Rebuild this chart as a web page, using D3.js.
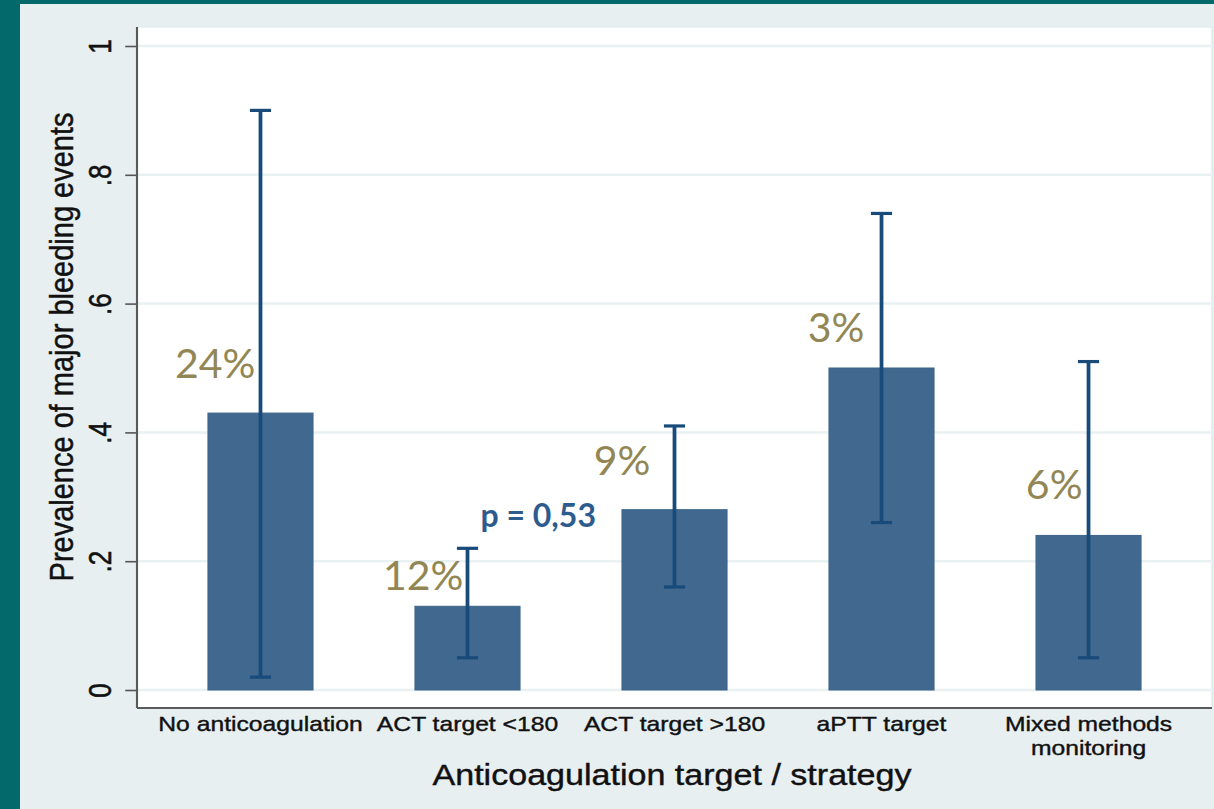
<!DOCTYPE html>
<html>
<head>
<meta charset="utf-8">
<script src="https://cdn.jsdelivr.net/npm/d3@7"></script>
<style>
  html, body { margin: 0; padding: 0; background: #e7eff1; }
  svg { display: block; }
</style>
</head>
<body>
<svg id="chart" width="1214" height="809"></svg>
<script>
// Prevalence of major bleeding events by anticoagulation strategy
const categories = ["No anticoagulation", "ACT target <180", "ACT target >180", "aPTT target", "Mixed methods\nmonitoring"];
const prevalence = [0.43, 0.13, 0.28, 0.50, 0.24];
const ciLow = [0.02, 0.05, 0.16, 0.26, 0.05];
const ciHigh = [0.90, 0.22, 0.41, 0.74, 0.51];
const shareLabels = ["24%", "12%", "9%", "3%", "6%"];
const yTicks = [0, 0.2, 0.4, 0.6, 0.8, 1];
const yTickLabels = ["0", ".2", ".4", ".6", ".8", "1"];
const pValueText = "p = 0,53";
const yTitle = "Prevalence of major bleeding events";
const xTitle = "Anticoagulation target / strategy";

// The graph is laid out in a horizontally widened frame
const SX = 1.175;
const W = 1214, H = 809;
const plot = { left: 137, right: 1212, top: 27, bottom: 708 };
const axisFont = "'Liberation Sans', Arial, sans-serif";

const svg = d3.select("#chart");

// page frame
svg.append("rect").attr("x", 0).attr("y", 0).attr("width", W).attr("height", H).attr("fill", "#e7eff1");
svg.append("rect").attr("x", 0).attr("y", 0).attr("width", 20).attr("height", H).attr("fill", "#03696a");
svg.append("rect").attr("x", 0).attr("y", 0).attr("width", W).attr("height", 4).attr("fill", "#03696a");

const g = svg.append("g").attr("transform", `scale(${SX},1)`);
const L = plot.left / SX, R = plot.right / SX;

const x = d3.scaleBand()
  .domain(d3.range(categories.length))
  .range([L, R])
  .paddingInner(0.493)
  .paddingOuter(0.343);

const y = d3.scaleLinear().domain([0, 1]).range([690, 46]);

// plot region
g.append("rect")
  .attr("x", L).attr("y", plot.top)
  .attr("width", R - L).attr("height", plot.bottom - plot.top)
  .attr("fill", "#ffffff").attr("stroke", "#e4edef").attr("stroke-width", 1.5);

// gridlines
g.append("g").selectAll("line").data(yTicks).join("line")
  .attr("x1", L).attr("x2", R)
  .attr("y1", d => y(d)).attr("y2", d => y(d))
  .attr("stroke", "#e9f1f3").attr("stroke-width", 2.5);

// bars
g.append("g").selectAll("rect").data(prevalence).join("rect")
  .attr("x", (d, i) => x(i))
  .attr("width", x.bandwidth())
  .attr("y", d => y(d))
  .attr("height", d => y(0) - y(d))
  .attr("fill", "#41698f")
  .attr("stroke", "#3c6489").attr("stroke-width", 1);

// confidence intervals
const capHalf = 9;
const eb = g.append("g").attr("stroke", "#184a7a").attr("stroke-width", 3.2).attr("fill", "none");
categories.forEach((c, i) => {
  const cx = x(i) + x.bandwidth() / 2;
  eb.append("line").attr("x1", cx).attr("x2", cx).attr("y1", y(ciLow[i])).attr("y2", y(ciHigh[i]));
  eb.append("line").attr("x1", cx - capHalf).attr("x2", cx + capHalf).attr("y1", y(ciHigh[i])).attr("y2", y(ciHigh[i]));
  eb.append("line").attr("x1", cx - capHalf).attr("x2", cx + capHalf).attr("y1", y(ciLow[i])).attr("y2", y(ciLow[i]));
});

// y axis
const yAxis = d3.axisLeft(y)
  .tickValues(yTicks)
  .tickFormat((d, i) => yTickLabels[i])
  .tickSize(10)
  .tickSizeOuter(0);
const ya = g.append("g").attr("transform", `translate(${L},0)`).call(yAxis);
ya.select(".domain").remove();
ya.selectAll(".tick line").attr("stroke", "#555").attr("stroke-width", 1.6);
ya.selectAll(".tick text")
  .attr("transform", "rotate(-90)")
  .attr("x", 0).attr("y", -22.5).attr("dy", null)
  .attr("text-anchor", "middle")
  .attr("font-family", axisFont)
  .attr("font-size", 26)
  .attr("fill", "#111").attr("stroke", "#111").attr("stroke-width", 0.5);

// axis lines
g.append("line").attr("x1", L).attr("x2", L).attr("y1", plot.top).attr("y2", plot.bottom)
  .attr("stroke", "#5a5a5a").attr("stroke-width", 1.8);
g.append("line").attr("x1", L).attr("x2", R).attr("y1", plot.bottom).attr("y2", plot.bottom)
  .attr("stroke", "#5a5a5a").attr("stroke-width", 2);

// x axis labels
const xAxis = d3.axisBottom(x).tickSize(0).tickSizeOuter(0).tickFormat((d) => categories[d]);
const xa = g.append("g").attr("transform", `translate(0,${plot.bottom})`).call(xAxis);
xa.select(".domain").remove();
xa.selectAll(".tick text").each(function (d) {
  const t = d3.select(this);
  const lines = categories[d].split("\n");
  t.text(null).attr("y", 23).attr("dy", null)
    .attr("font-family", axisFont)
    .attr("font-size", 21).attr("fill", "#111").attr("text-anchor", "middle")
    .attr("stroke", "#111").attr("stroke-width", 0.4);
  lines.forEach((ln, k) => {
    t.append("tspan").attr("x", 0).attr("y", 23 + k * 24).text(ln);
  });
});

// axis titles
g.append("text")
  .attr("transform", `translate(${73 / SX},347) rotate(-90)`)
  .attr("text-anchor", "middle")
  .attr("font-family", axisFont)
  .attr("font-size", 29).attr("fill", "#111")
  .attr("stroke", "#111").attr("stroke-width", 0.4)
  .text(yTitle);
g.append("text")
  .attr("x", 672 / SX).attr("y", 785)
  .attr("text-anchor", "middle")
  .attr("font-family", axisFont)
  .attr("font-size", 29).attr("fill", "#111")
  .attr("stroke", "#111").attr("stroke-width", 0.4)
  .text(xTitle);

// share labels beside each bar (offsets from the bar's top centre, in page pixels)
const noteOffsets = [[-5, -35], [-4, -16], [-24, -35], [-17, -26], [-6, -36]];
const notes = svg.append("g");
shareLabels.forEach((s, i) => {
  const cx = (x(i) + x.bandwidth() / 2) * SX;
  notes.append("text")
    .attr("x", cx + noteOffsets[i][0])
    .attr("y", y(prevalence[i]) + noteOffsets[i][1])
    .attr("text-anchor", "end")
    .attr("font-family", "Lato, 'Open Sans', sans-serif")
    .attr("font-size", 41)
    .attr("fill", "#928754")
    .text(s);
});

// p-value annotation above the second interval
const c2 = (x(1) + x.bandwidth() / 2) * SX;
svg.append("text")
  .attr("x", c2 + 13)
  .attr("y", y(ciHigh[1]) - 21)
  .attr("font-family", "Lato, 'Open Sans', sans-serif")
  .attr("font-weight", "bold")
  .attr("font-size", 32)
  .attr("fill", "#2e5b8e")
  .text(pValueText);
</script>
</body>
</html>
